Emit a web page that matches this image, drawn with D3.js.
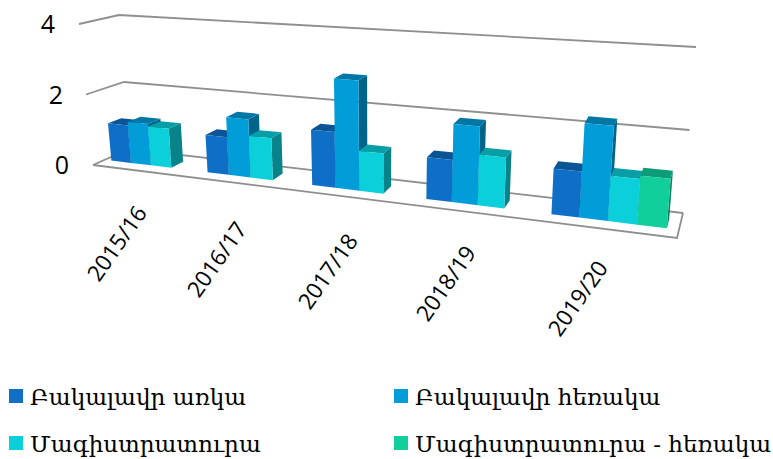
<!DOCTYPE html>
<html>
<head>
<meta charset="utf-8">
<script src="https://cdn.jsdelivr.net/npm/d3@7"></script>
<style>
  html, body { margin: 0; padding: 0; background: #fff; }
</style>
</head>
<body>
<div id="vizcont"></div>
<script>
// values
var categories = ["2015/16", "2016/17", "2017/18", "2018/19", "2019/20"];
var seriesNames = ["Բակալավր առկա", "Բակալավր հեռակա", "Մագիստրատուրա", "Մագիստրատուրա - հեռակա"];
var bachelorFull = [1.07, 1.03, 1.47, 1.06, 1.11];
var bachelorDistance = [1.17, 1.58, 2.88, 1.97, 2.28];
var masters = [1.1, 1.13, 1.04, 1.26, 1.08];
var mastersDistance = [null, null, null, null, 1.16];
var valueTicks = [0, 2, 4];
var seriesColors = ["#0F6FC6", "#009DD9", "#0BD0D9", "#10CF9B"];

var allSeries = [bachelorFull, bachelorDistance, masters, mastersDistance];

var width = 773, height = 459;

var svg = d3.select("#vizcont")
    .append("svg")
    .attr("width", width)
    .attr("height", height)
    .style("display", "block");

// corners of the 3d box on screen: [value 0, value 4]
var frontLeft = [[93, 165], [79, 24]];
var frontRight = [[677, 238], [691, 64]];
var backLeft = [[129, 149], [119, 15]];
var backRight = [[683, 213], [696, 47]];

var lerp = function(a, b, t) { return [a[0] + (b[0] - a[0]) * t, a[1] + (b[1] - a[1]) * t]; };

var y = d3.scaleLinear().domain([0, 4]).range([0, 1]);
var x0 = d3.scaleBand().domain(categories).range([0, 1]);
var x1 = d3.scaleBand().domain(d3.range(seriesNames.length))
    .range([0.07 * x0.bandwidth(), 0.915 * x0.bandwidth()]);

// x is squeezed towards the far end of the box
var k = 1.25;
function warp(u) { return u / (u + (1 - u) * k); }

// u along the category axis, v the value, d the depth (0 front, 1 back)
function project(u, v, d) {
    var t = warp(u), h = y(v);
    var fl = lerp(frontLeft[0], frontLeft[1], h);
    var fr = lerp(frontRight[0], frontRight[1], h);
    var bl = lerp(backLeft[0], backLeft[1], h);
    var br = lerp(backRight[0], backRight[1], h);
    return lerp(lerp(fl, fr, t), lerp(bl, br, t), d);
}

var line = d3.line();
var gridColor = "#8f8f8f";

// floor
svg.append("path")
    .attr("d", line([project(0, 0, 0), project(1, 0, 0), project(1, 0, 1)]))
    .attr("fill", "none")
    .attr("stroke", gridColor)
    .attr("stroke-width", 1.8);

// gridlines: stub on the left wall and the long line on the back wall
svg.selectAll("path.grid")
    .data(valueTicks)
    .enter()
    .append("path")
    .attr("class", "grid")
    .attr("d", function(d) { return line([project(0, d, 0), project(0, d, 1), project(1, d, 1)]); })
    .attr("fill", "none")
    .attr("stroke", gridColor)
    .attr("stroke-width", 1.8);

// value labels
var valueDx = [-24, -23, -24];
svg.selectAll("text.val")
    .data(valueTicks)
    .enter()
    .append("text")
    .attr("class", "val")
    .attr("x", function(d, i) { return project(0, d, 0)[0] + valueDx[i]; })
    .attr("y", function(d) { return project(0, d, 0)[1] + 9; })
    .attr("text-anchor", "end")
    .style("font-family", "Open Sans")
    .style("font-size", "25px")
    .text(function(d) { return d; });

// bars, left to right so that the next bar covers the side of the last one
var d0 = 0.33, d1 = 0.69;
var topShade = 0.76, sideShade = 0.63;

function shade(c, f) {
    var r = d3.rgb(c);
    return d3.rgb(r.r * f, r.g * f, r.b * f).formatHex();
}

var bars = [];
categories.forEach(function(cat, i) {
    allSeries.forEach(function(values, s) {
        if (values[i] != null) bars.push({cat: cat, s: s, value: values[i]});
    });
});

var barG = svg.selectAll("g.bar")
    .data(bars)
    .enter()
    .append("g")
    .attr("class", "bar");

function faces(b) {
    var u0 = x0(b.cat) + x1(b.s), u1 = u0 + x1.bandwidth();
    return {
        side: [project(u1, 0, d0), project(u1, 0, d1), project(u1, b.value, d1), project(u1, b.value, d0)],
        top: [project(u0, b.value, d0), project(u1, b.value, d0), project(u1, b.value, d1), project(u0, b.value, d1)],
        front: [project(u0, 0, d0), project(u1, 0, d0), project(u1, b.value, d0), project(u0, b.value, d0)]
    };
}

barG.append("path")
    .attr("d", function(b) { return line(faces(b).side) + "Z"; })
    .attr("fill", function(b) { return shade(seriesColors[b.s], sideShade); });
barG.append("path")
    .attr("d", function(b) { return line(faces(b).top) + "Z"; })
    .attr("fill", function(b) { return shade(seriesColors[b.s], topShade); });
barG.append("path")
    .attr("d", function(b) { return line(faces(b).front) + "Z"; })
    .attr("fill", function(b) { return seriesColors[b.s]; });

// category labels
var labelPos = [[148, 213], [248, 229], [359, 241], [477, 253], [609, 268]];
svg.selectAll("text.cat")
    .data(categories)
    .enter()
    .append("text")
    .attr("class", "cat")
    .attr("text-anchor", "end")
    .attr("transform", function(d, i) { return "translate(" + labelPos[i][0] + "," + labelPos[i][1] + ") rotate(-55)"; })
    .style("font-family", "Open Sans")
    .style("font-size", "22.5px")
    .text(function(d) { return d; });

// legend
var legendX = [9, 394], legendY = [396, 443];
var legend = svg.selectAll("g.legend")
    .data(seriesNames)
    .enter()
    .append("g")
    .attr("class", "legend")
    .attr("transform", function(d, i) { return "translate(" + legendX[i % 2] + "," + legendY[Math.floor(i / 2)] + ")"; });

legend.append("rect")
    .attr("y", -7)
    .attr("width", 14)
    .attr("height", 14)
    .attr("fill", function(d, i) { return seriesColors[i]; });

legend.append("text")
    .attr("x", 21)
    .attr("y", 9)
    .style("font-family", "DejaVu Serif")
    .style("font-size", "23.1px")
    .text(function(d) { return d; });
</script>
</body>
</html>
